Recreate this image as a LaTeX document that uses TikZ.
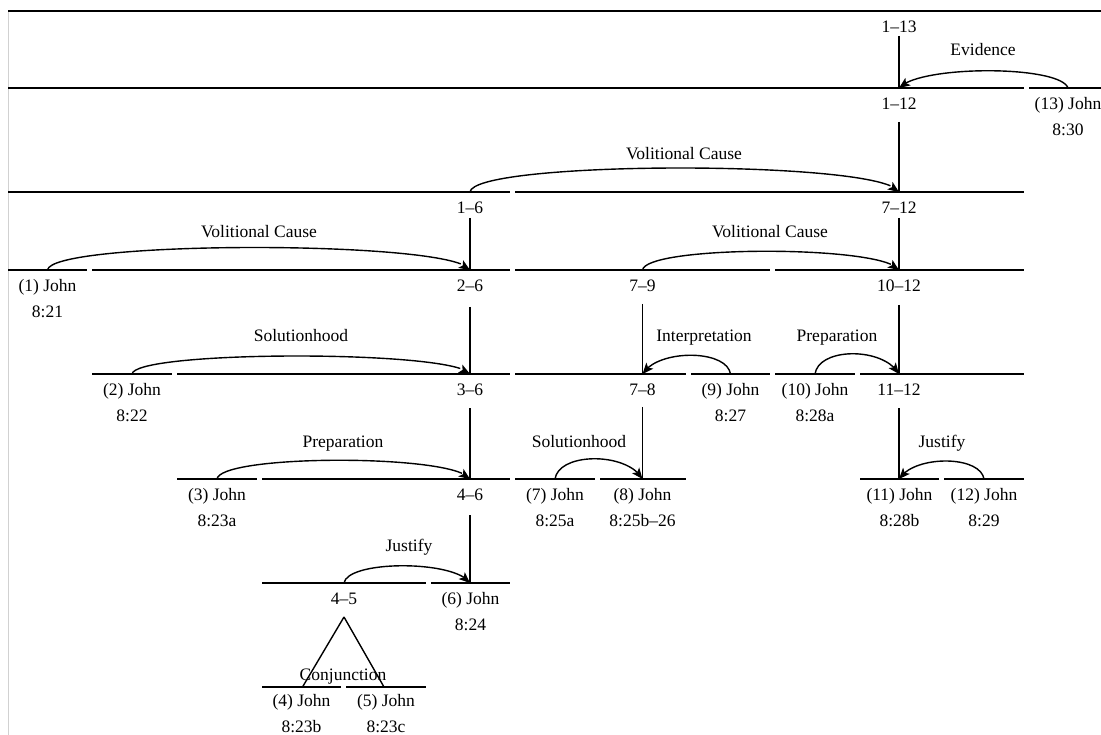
\documentclass[tikz,border=0pt]{standalone}
\usepackage{fontspec}
\setmainfont{Liberation Serif}
\usetikzlibrary{arrows.meta,bending}
\newcommand\twoline[2]{\begin{tabular}[t]{@{}c@{}}#1\\#2\end{tabular}}
\begin{document}
\begin{tikzpicture}[x=1pt,y=-1pt,
  seg/.style={line width=2.2pt},
  nucl/.style={line width=1.4pt},
  nuclthick/.style={line width=2pt},
  rstarc/.style={line width=1.4pt,-{Stealth[length=11pt,width=9pt,inset=2.5pt,flex]}},
  multi/.style={line width=1.4pt},
  txt/.style={font=\fontsize{17.5}{26}\selectfont,inner sep=0pt,anchor=base},
  framel/.style={draw=black!18,line width=1pt}]
\useasboundingbox (0,0) rectangle (1101,735);
% faint left border
\coordinate (fa) at (8,11); \coordinate (fb) at (8,735);
\draw[framel] (fa) -- (fb);
% ---- span lines ----
\draw[seg] (8,11) -- (1101,11);
\draw[seg] (8,88) -- (1024,88);  \draw[seg] (1029,88) -- (1101,88);
\draw[seg] (8,192) -- (510,192); \draw[seg] (515,192) -- (1024,192);
\draw[seg] (8,270) -- (87,270);  \draw[seg] (92,270) -- (510,270);
\draw[seg] (515,270) -- (770,270); \draw[seg] (775,270) -- (1024,270);
\draw[seg] (92,374) -- (172,374); \draw[seg] (177,374) -- (510,374);
\draw[seg] (515,374) -- (686,374); \draw[seg] (691,374) -- (770,374);
\draw[seg] (775,374) -- (855,374); \draw[seg] (860,374) -- (1024,374);
\draw[seg] (177,479) -- (257,479); \draw[seg] (262,479) -- (510,479);
\draw[seg] (515,479) -- (595,479); \draw[seg] (600,479) -- (686,479);
\draw[seg] (860,479) -- (939,479); \draw[seg] (944,479) -- (1024,479);
\draw[seg] (262,583) -- (426,583); \draw[seg] (431,583) -- (510,583);
\draw[seg] (262,687) -- (341,687); \draw[seg] (346,687) -- (426,687);
% ---- attachment points ----
\coordinate (t112) at (899,88);   \coordinate (t13) at (1068,88);
\coordinate (t16) at (470,192);   \coordinate (t712) at (899,192);
\coordinate (t1) at (47.5,270);   \coordinate (t26) at (470,270);
\coordinate (t79) at (642.5,270); \coordinate (t1012) at (899,270);
\coordinate (t2) at (132,374);    \coordinate (t36) at (470,374);
\coordinate (t78) at (642.5,374); \coordinate (t9) at (730.5,374);
\coordinate (t10) at (815,374);   \coordinate (t1112) at (899,374);
\coordinate (t3) at (217,479);    \coordinate (t46) at (470,479);
\coordinate (t7) at (555,479);    \coordinate (t8) at (642.5,479);
\coordinate (t11) at (899,479);   \coordinate (t12) at (984,479);
\coordinate (t45) at (344,583);   \coordinate (t6) at (470,583);
\coordinate (t4) at (302.5,687);  \coordinate (t5) at (384,687);
% tops of nucleus lines
\coordinate (u113) at (899,36);
\coordinate (u112) at (899,122);
\coordinate (u16) at (470,218);   \coordinate (u712) at (899,218);
\coordinate (u26) at (470,307);   \coordinate (u79) at (642.5,304); \coordinate (u1012) at (899,305);
\coordinate (u36) at (470,408);   \coordinate (u78) at (642.5,407); \coordinate (u1112) at (899,408);
\coordinate (u46) at (470,515);
\coordinate (u45) at (344,617);
% ---- nucleus lines ----
\draw[nuclthick] (u113) -- (t112);
\draw[nucl] (u112) -- (t712);
\draw[nuclthick] (u16) -- (t26);
\draw[nuclthick] (u712) -- (t1012);
\draw[nucl] (u26) -- (t36);
\draw[nucl] (u79) -- (t78);
\draw[nucl] (u1012) -- (t1112);
\draw[nucl] (u36) -- (t46);
\draw[nucl] (u78) -- (t8);
\draw[nucl] (u1112) -- (t11);
\draw[nucl] (u46) -- (t6);
\draw[multi] (u45) -- (t4);
\draw[multi] (u45) -- (t5);
% ---- relation arcs ----
\draw[rstarc] (t13) .. controls +(-8,-23) and +(20,-23) .. (t112);
\draw[rstarc] (t16) .. controls +(4,-32) and +(-15,-32) .. (t712);
\draw[rstarc] (t1) .. controls +(4,-30) and +(-15,-30) .. (t26);
\draw[rstarc] (t79) .. controls +(4,-25) and +(-15,-25) .. (t1012);
\draw[rstarc] (t2) .. controls +(4,-24) and +(-15,-24) .. (t36);
\draw[rstarc] (t9) .. controls +(-4,-25) and +(15,-25) .. (t78);
\draw[rstarc] (t10) .. controls +(4,-27) and +(-15,-27) .. (t1112);
\draw[rstarc] (t3) .. controls +(4,-25) and +(-15,-25) .. (t46);
\draw[rstarc] (t7) .. controls +(4,-27) and +(-15,-27) .. (t8);
\draw[rstarc] (t12) .. controls +(-4,-24) and +(15,-24) .. (t11);
\draw[rstarc] (t45) .. controls +(4,-23) and +(-15,-23) .. (t6);
% ---- relation labels ----
\node[txt] (rEv) at (983,56) {Evidence};
\node[txt] (rVC1) at (684,160) {Volitional Cause};
\node[txt] (rVC2) at (259,238) {Volitional Cause};
\node[txt] (rVC3) at (770,238) {Volitional Cause};
\node[txt] (rSol1) at (301,342) {Solutionhood};
\node[txt] (rInt) at (704,342) {Interpretation};
\node[txt] (rPrep1) at (837,342) {Preparation};
\node[txt] (rPrep2) at (343,447) {Preparation};
\node[txt] (rSol2) at (579,447) {Solutionhood};
\node[txt] (rJus1) at (942,447) {Justify};
\node[txt] (rJus2) at (409,551) {Justify};
\node[txt] (rConj) at (343,680.7) {Conjunction};
% ---- span labels ----
\node[txt] (s113) at (899,32.7) {1–13};
\node[txt] (s112) at (899,109.7) {1–12};
\node[txt] (s16) at (470,213.7) {1–6};
\node[txt] (s712) at (899,213.7) {7–12};
\node[txt] (s26) at (470,291.7) {2–6};
\node[txt] (s79) at (642.5,291.7) {7–9};
\node[txt] (s1012) at (899,291.7) {10–12};
\node[txt] (s36) at (470,395.7) {3–6};
\node[txt] (s78) at (642.5,395.7) {7–8};
\node[txt] (s1112) at (899,395.7) {11–12};
\node[txt] (s46) at (470,500.7) {4–6};
\node[txt] (s45) at (344,604.7) {4–5};
% ---- leaf labels ----
\node[txt] (e13) at (1068,109.7) {\twoline{(13) John}{8:30}};
\node[txt] (e1) at (47.5,291.7) {\twoline{(1) John}{8:21}};
\node[txt] (e2) at (132,395.7) {\twoline{(2) John}{8:22}};
\node[txt] (e9) at (730.5,395.7) {\twoline{(9) John}{8:27}};
\node[txt] (e10) at (815,395.7) {\twoline{(10) John}{8:28a}};
\node[txt] (e3) at (217,500.7) {\twoline{(3) John}{8:23a}};
\node[txt] (e7) at (555,500.7) {\twoline{(7) John}{8:25a}};
\node[txt] (e8) at (642.5,500.7) {\twoline{(8) John}{8:25b–26}};
\node[txt] (e11) at (899.5,500.7) {\twoline{(11) John}{8:28b}};
\node[txt] (e12) at (984,500.7) {\twoline{(12) John}{8:29}};
\node[txt] (e6) at (470.5,604.7) {\twoline{(6) John}{8:24}};
\node[txt] (e4) at (301.5,706.5) {\twoline{(4) John}{8:23b}};
\node[txt] (e5) at (386,706.5) {\twoline{(5) John}{8:23c}};
\end{tikzpicture}
\end{document}
